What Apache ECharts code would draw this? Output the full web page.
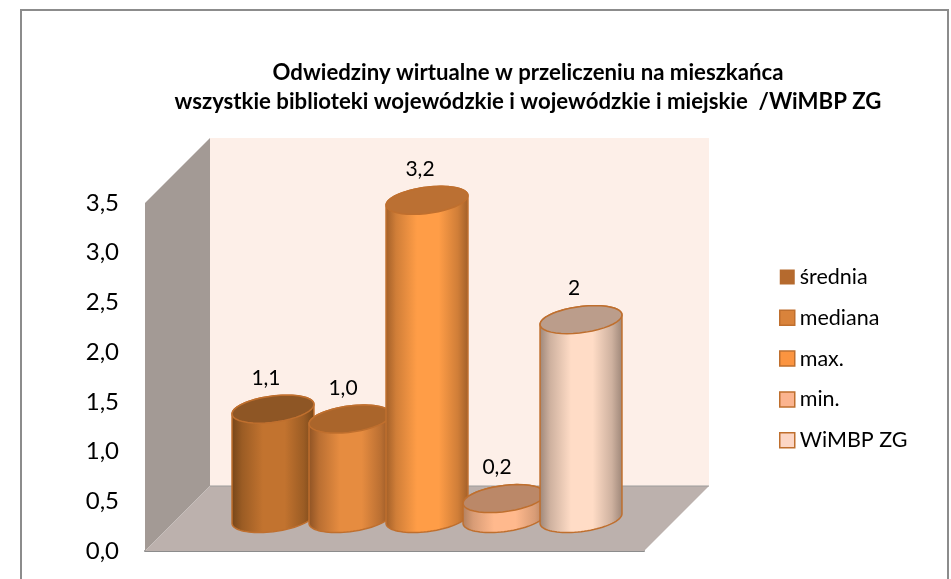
<!DOCTYPE html>
<html lang="pl">
  <head>
    <meta charset="UTF-8" />
    <title>Odwiedziny wirtualne</title>
    <script src="https://cdn.jsdelivr.net/npm/echarts@6/dist/echarts.min.js"></script>
    <style>
      html, body { margin: 0; padding: 0; background: #fff; }
      #chart { width: 951px; height: 579px; }
    </style>
  </head>
  <body>
    <div id="chart"></div>
    <script>
      const seriesNames = ["średnia", "mediana", "max.", "min.", "WiMBP ZG"];
      const seriesValues = [1.1, 1.0, 3.2, 0.2, 2.0];
      const valueLabels = ["1,1", "1,0", "3,2", "0,2", "2"];
      const tickLabels = ["0,0", "0,5", "1,0", "1,5", "2,0", "2,5", "3,0", "3,5"];
      const titleLines = [
        "Odwiedziny wirtualne w przeliczeniu na mieszkańca",
        "wszystkie biblioteki wojewódzkie i wojewódzkie i miejskie  /WiMBP ZG",
      ];

      // colours per cylinder: side edge, side middle, top cap, legend box
      const edgeColors = ["#744519", "#8d5224", "#a05e28", "#b07f5e", "#9c8577"];
      const sideColors = ["#c2732f", "#e68c40", "#ff9d47", "#ffb98d", "#ffdcc6"];
      const capColors = ["#8e5625", "#aa652b", "#bb7033", "#bb8868", "#bb9d8b"];
      const legendColors = ["#b56a2e", "#d9833b", "#fb9440", "#fbb48f", "#fcd6c5"];
      const borderColor = "#bf6f2e";

      const depth = 65; // shift of the back wall, px
      const radiusX = 38.5;
      const radiusY = 14;
      const slotSpan = 3.24; // half width of the x axis, in cylinder slots
      const font = "Lato";

      const chart = echarts.init(document.getElementById("chart"));

      function renderWalls(params, api) {
        const a = api.coord([-slotSpan, 0]);
        const b = api.coord([slotSpan, 3.5]);
        return {
          type: "group",
          silent: true,
          children: [
            {
              type: "polygon",
              shape: { points: [[a[0] + depth, b[1] - depth], [b[0] + depth, b[1] - depth], [b[0] + depth, a[1] - depth], [a[0] + depth, a[1] - depth]] },
              style: { fill: "#fdefe8" },
            },
            {
              type: "polygon",
              shape: { points: [[a[0], b[1]], [a[0] + depth, b[1] - depth], [a[0] + depth, a[1] - depth], [a[0], a[1]]] },
              style: { fill: "#a39a95" },
            },
            {
              type: "polygon",
              shape: { points: [[a[0], a[1]], [b[0], a[1]], [b[0] + depth, a[1] - depth], [a[0] + depth, a[1] - depth]] },
              style: { fill: "#bcb1ad" },
            },
            {
              type: "line",
              shape: { x1: a[0] + depth, y1: a[1] - depth, x2: b[0] + depth, y2: a[1] - depth },
              style: { stroke: "#9c9c9c", lineWidth: 1 },
            },
          ],
        };
      }

      // one arc of the cylinder's slanted circle
      function arc(cx, cy, from, to) {
        const pts = [];
        for (let i = 0; i <= 40; i++) {
          const t = from + ((to - from) * i) / 40;
          pts.push([cx + radiusX * Math.cos(t) + radiusY * Math.sin(t), cy - radiusY * Math.sin(t)]);
        }
        return pts;
      }

      function makeCylinder(idx) {
        const mix = echarts.color.lerp(0.5, [edgeColors[idx], sideColors[idx]]);
        return function (params, api) {
          const base = api.coord([api.value(0), 0]);
          const top = api.coord([api.value(0), api.value(1)]);
          const cx = base[0] + depth / 2;
          const yBase = base[1] - depth / 2;
          const yTop = top[1] - depth / 2;
          const turn = Math.atan2(radiusY, radiusX);
          // side silhouette: front half of the bottom circle + back half of the top circle
          const front = arc(cx, yBase, turn + Math.PI, turn + 2 * Math.PI);
          const backTop = arc(cx, yTop, turn, turn + Math.PI);
          return {
            type: "group",
            silent: true,
            children: [
              {
                type: "polygon",
                shape: { points: front.concat(backTop) },
                style: {
                  fill: {
                    type: "linear", x: 0, y: 0, x2: 1, y2: 0,
                    colorStops: [
                      { offset: 0, color: edgeColors[idx] },
                      { offset: 0.13, color: mix },
                      { offset: 0.38, color: sideColors[idx] },
                      { offset: 0.64, color: sideColors[idx] },
                      { offset: 0.87, color: mix },
                      { offset: 1, color: edgeColors[idx] },
                    ],
                  },
                  stroke: borderColor,
                  lineWidth: 1.5,
                },
              },
              {
                type: "polygon",
                shape: { points: arc(cx, yTop, 0, 2 * Math.PI) },
                style: { fill: capColors[idx], stroke: borderColor, lineWidth: 1.5 },
              },
              {
                type: "text",
                x: cx - 7,
                y: yTop - 31,
                style: {
                  text: valueLabels[idx],
                  font: "21px " + font,
                  fill: "#000",
                  align: "center",
                  verticalAlign: "middle",
                },
              },
            ],
          };
        };
      }

      const series = [
        { type: "custom", name: "walls", renderItem: renderWalls, data: [[0, 0]], clip: false, z: 1 },
      ];
      seriesNames.forEach(function (name, i) {
        series.push({
          type: "custom",
          name: name,
          renderItem: makeCylinder(i),
          data: [[i - 2, seriesValues[i]]],
          encode: { x: 0, y: 1 },
          clip: false,
          z: 3,
          itemStyle: { color: legendColors[i] },
        });
      });

      const option = {
        animation: false,
        backgroundColor: "#fff",
        title: {
          text: titleLines.join("\n"),
          left: 523,
          top: 54,
          textAlign: "center",
          textStyle: { fontFamily: font, fontSize: 22.2, fontWeight: "bold", color: "#000", lineHeight: 28.5 },
        },
        legend: {
          orient: "vertical",
          left: 779,
          top: 265,
          padding: 0,
          itemWidth: 15,
          itemHeight: 15,
          itemGap: 16.8,
          selectedMode: false,
          textStyle: { fontFamily: font, fontSize: 21.5, color: "#000", lineHeight: 24 },
          data: seriesNames.map(function (name, i) {
            return {
              name: name,
              icon: "rect",
              itemStyle: { color: legendColors[i], borderColor: borderColor, borderWidth: i === 0 ? 0 : 1.5 },
            };
          }),
        },
        grid: { left: 145, top: 203, width: 499, height: 348, containLabel: false },
        xAxis: {
          type: "value",
          min: -slotSpan,
          max: slotSpan,
          axisLabel: { show: false },
          axisTick: { show: false },
          splitLine: { show: false },
          axisLine: { show: true, onZero: false, lineStyle: { color: "#8c8c8c", width: 2 } },
        },
        yAxis: {
          type: "value",
          min: 0,
          max: 3.5,
          interval: 0.5,
          splitLine: { show: false },
          axisLine: { show: true, lineStyle: { color: "#8c8c8c", width: 2 } },
          axisTick: { show: true, length: 8, lineStyle: { color: "#8c8c8c", width: 2 } },
          axisLabel: {
            margin: 26,
            fontFamily: font,
            fontSize: 24,
            color: "#000",
            formatter: function (v) {
              return tickLabels[Math.round(v * 2)];
            },
          },
        },
        graphic: [
          {
            type: "rect",
            shape: { x: 21, y: 10, width: 927, height: 600 },
            style: { fill: "none", stroke: "#8c8c8c", lineWidth: 2 },
            silent: true,
            z: 0,
          },
        ],
        series: series,
      };
      chart.setOption(option);
    </script>
  </body>
</html>
